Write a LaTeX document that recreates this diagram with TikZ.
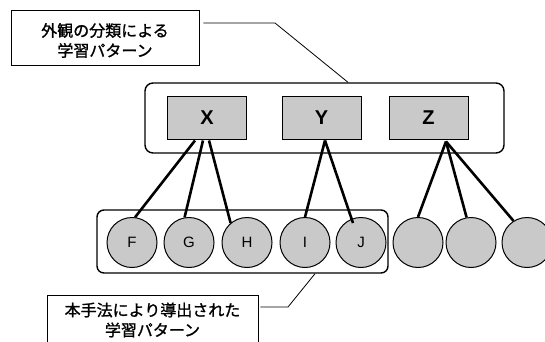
\documentclass[tikz,border=0pt]{standalone}
\usepackage{fontspec}
\setmainfont{Liberation Sans}
\newfontfamily\jpfont[FakeBold=1.2]{Noto Sans CJK JP}
\usetikzlibrary{calc}
\begin{document}
\begin{tikzpicture}[x=1pt,y=-1pt,
  grp/.style={draw, line width=1.4pt, rounded corners=8pt, inner sep=0pt},
  cls/.style={draw, line width=1pt, fill=gray!42, minimum width=79pt, minimum height=43pt, inner sep=0pt, font=\bfseries\fontsize{20}{20}\selectfont},
  pat/.style={circle, draw, line width=1pt, fill=gray!42, minimum size=50pt, inner sep=0pt, font=\fontsize{15}{15}\selectfont},
  link/.style={line width=2.6pt},
  lbl/.style={draw, line width=0.8pt, align=center, inner sep=0pt, font=\jpfont\fontsize{16}{20}\selectfont},
  lbltext/.style={align=center, inner sep=0pt, font=\jpfont\fontsize{16}{20}\selectfont},
  lead/.style={line width=0.8pt}]
\useasboundingbox (0,0) rectangle (545,341);
\clip (0,0) rectangle (545,341);
% group boxes
\node[grp, minimum width=359pt, minimum height=70pt] (top) at (324.5,118) {};
\node[grp, rounded corners=7pt, minimum width=291pt, minimum height=63pt] (bot) at (242.5,241.5) {};
% class boxes
\node[cls] (X) at (207,117.5) {X};
\node[cls] (Y) at (321.5,117.5) {Y};
\node[cls] (Z) at (428.5,117.5) {Z};
% pattern circles
\node[pat] (F) at (132,242.5) {F};
\node[pat] (G) at (189,242.5) {G};
\node[pat] (H) at (247,242.5) {H};
\node[pat] (I) at (305,242.5) {I};
\node[pat] (J) at (361,242.5) {J};
\node[pat] (K) at (418,242.5) {};
\node[pat] (L) at (471,242.5) {};
\node[pat] (M) at (527,242.5) {};
% links
\draw[link] ($(X.south)+(-12,1)$) -- (F.83);
\draw[link] ($(X.south)+(-4,1)$) -- (G.100);
\draw[link] ($(X.south)+(2,1)$) -- (H.130);
\draw[link] ($(Y.south)+(3.5,1)$) -- (I.north);
\draw[link] ($(Y.south)+(3.5,1)$) -- ($(J.center)+(-8,-19.5)$);
\draw[link] ($(Z.south)+(17.5,2)$) -- (K.north);
\draw[link] ($(Z.south)+(17.5,2)$) -- (L.100);
\draw[link] ($(Z.south)+(17.5,2)$) -- (M.122);
% labels
\node[lbl, minimum width=188pt, minimum height=55pt] (toplbl) at (105,37.5) {};
\node[lbltext] (toptxt) at (105,40.5) {外観の分類による\\学習パターン};
\node[lbl, minimum width=211pt, minimum height=50pt] (botlbl) at (152.5,320) {本手法により導出された\\学習パターン};
% leaders
\coordinate (k1) at (275,23);
\draw[lead] ($(toplbl.east)+(4,-14.5)$) -- (k1) -- ($(top.north)+(23.5,0)$);
\coordinate (k2) at (288,307);
\draw[lead] ($(botlbl.east)+(2,-13)$) -- (k2) -- ($(bot.south)+(72.5,0)$);
\end{tikzpicture}
\end{document}
